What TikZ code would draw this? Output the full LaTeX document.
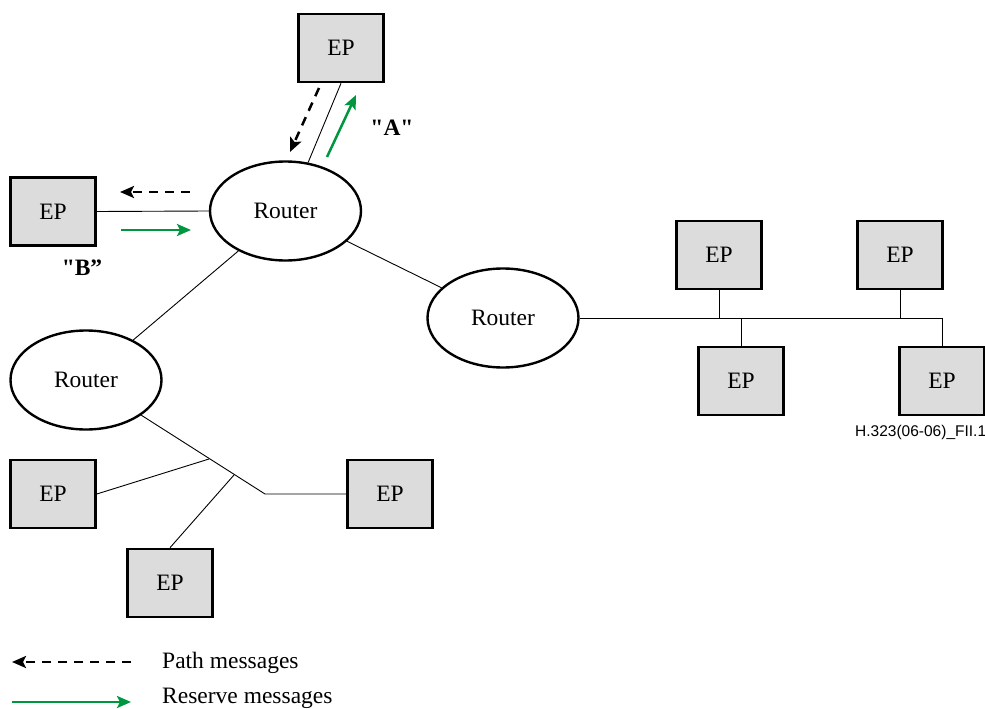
\documentclass[tikz,border=0pt]{standalone}
\usepackage{fontspec}
\setmainfont{Liberation Serif}
\newfontfamily\labelsans{Liberation Sans}
\newfontfamily\qfont{Liberation Serif}[Ligatures=TeXOff]
\usetikzlibrary{shapes.geometric,arrows.meta}
\definecolor{epgray}{RGB}{220,220,220}
\definecolor{resgreen}{RGB}{0,150,64}
\tikzset{
  epbox/.style={draw, line width=2.6pt, fill=epgray, minimum width=85pt, minimum height=68pt, inner sep=0pt, font=\fontsize{23.5}{28}\selectfont},
  router/.style={draw, ellipse, line width=2.4pt, minimum width=151pt, minimum height=99pt, inner sep=0pt, font=\fontsize{23.5}{28}\selectfont},
  link/.style={line width=0.9pt},
  pathmsg/.style={line width=2.5pt, dash pattern=on 9pt off 7pt, -{Stealth[length=14pt,width=12pt,inset=3pt]}},
  resmsg/.style={line width=2.5pt, draw=resgreen, -{Stealth[length=14pt,width=12pt,inset=3pt,fill=resgreen]}},
  lbl/.style={font=\qfont\fontsize{23.5}{28}\selectfont\bfseries, inner sep=0pt},
  legtext/.style={font=\fontsize{23.5}{28}\selectfont, inner sep=0pt, anchor=base west}
}
\begin{document}
\begin{tikzpicture}[x=1pt,y=-1pt]
\useasboundingbox (0,0) rectangle (985,709);
% routers
\node[router] (r1) at (285.5,211) {Router};
\node[router] (r2) at (503,318) {Router};
\node[router] (r3) at (86,380) {Router};
% endpoints
\node[epbox] (et) at (341,48) {EP};
\node[epbox] (el) at (53,211.5) {EP};
\node[epbox] (ea) at (719,255) {EP};
\node[epbox] (eb) at (900,255) {EP};
\node[epbox] (ec) at (741,381) {EP};
\node[epbox] (ed) at (942,381) {EP};
\node[epbox] (ee) at (53,494) {EP};
\node[epbox] (ef) at (390,494) {EP};
\node[epbox] (eg) at (170,583) {EP};
% links
\draw[link] (et.south) -- (r1.65);
\draw[link] (el.east) -- (r1.west);
\draw[link] (r1) -- (r2);
\draw[link] (r1) -- (r3);
% LAN on right
\coordinate (lanend) at (943,318);
\draw[link] (r2.east) -- (lanend);
\coordinate (ta) at (ea.south |- lanend);
\coordinate (tb) at (eb.south |- lanend);
\coordinate (tc) at (ec.north |- lanend);
\coordinate (td) at (ed.north |- lanend);
\draw[link] (ea.south) -- (ta);
\draw[link] (eb.south) -- (tb);
\draw[link] (ec.north) -- (tc);
\draw[link] (ed.north) -- (td);
% lower left tree
\coordinate (bend) at (265,494);
\draw[link] (r3) -- (bend) -- (ef.west);
\coordinate (b1) at (209,459);
\coordinate (b2) at (234,475);
\draw[link] (b1) -- (ee.east);
\draw[link] (b2) -- (eg.north);
% message arrows
\coordinate (pa1) at (319,88);
\coordinate (pa2) at (290,152);
\draw[pathmsg] (pa1) -- (pa2);
\coordinate (ra1) at (327,157);
\coordinate (ra2) at (356,95);
\draw[resmsg] (ra1) -- (ra2);
\coordinate (pb1) at (190,192);
\coordinate (pb2) at (120,192);
\draw[pathmsg] (pb1) -- (pb2);
\coordinate (rb1) at (121,230);
\coordinate (rb2) at (191,230);
\draw[resmsg] (rb1) -- (rb2);
\node[lbl] (la) at (392,128) {"A"};
\node[lbl] (lb) at (82,268) {"B”};
% legend
\coordinate (lp1) at (131,662);
\coordinate (lp2) at (12,662);
\draw[pathmsg] (lp1) -- (lp2);
\coordinate (lr1) at (12,702);
\coordinate (lr2) at (131,702);
\draw[resmsg] (lr1) -- (lr2);
\node[legtext] (tp) at (162,668) {Path messages};
\node[legtext] (tr) at (162,703) {Reserve messages};
% figure id
\node[font=\labelsans\fontsize{15.5}{18}\selectfont, anchor=west, inner sep=0pt] (fid) at (855,432) {H.323(06-06)\_FII.1};
\end{tikzpicture}
\end{document}
